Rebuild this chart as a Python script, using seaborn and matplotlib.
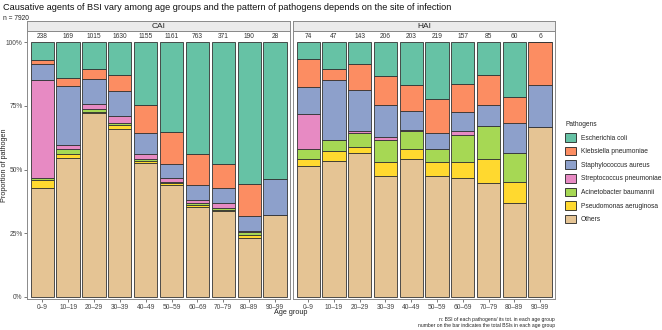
import numpy as np
import pandas as pd
import seaborn as sns
import matplotlib
matplotlib.use("Agg")
import matplotlib.pyplot as plt
from matplotlib.patches import Patch

sns.set_theme(style="white")
plt.rcParams["font.family"] = ["Liberation Sans", "DejaVu Sans"]

# ---------------- data ----------------
age_groups = ["0–9", "10–19", "20–29", "30–39", "40–49",
              "50–59", "60–69", "70–79", "80–89", "90–99"]
pathogens = ["Escherichia coli", "Klebsiella pneumoniae", "Staphylococcus aureus",
             "Streptococcus pneumoniae", "Acinetobacter baumannii",
             "Pseudomonas aeruginosa", "Others"]
colors = ["#66C2A5", "#FC8D62", "#8DA0CB", "#E78AC3", "#A6D854", "#FFD92F", "#E5C494"]

# counts (BSIs) per age group, community-acquired infections
cai_ecoli = [17, 24, 108, 211, 286, 408, 336, 177, 106, 15]
cai_kleb = [3, 5, 37, 99, 128, 147, 93, 35, 24, 0]
cai_staph = [15, 39, 100, 161, 94, 66, 44, 23, 11, 4]
cai_strep = [92, 3, 23, 44, 20, 16, 10, 6, 1, 0]
cai_acin = [2, 3, 10, 13, 9, 6, 5, 3, 2, 0]
cai_pseudo = [7, 3, 6, 29, 9, 8, 7, 2, 2, 0]
cai_others = [102, 92, 731, 1073, 609, 510, 268, 125, 44, 9]

# counts per age group, hospital-acquired infections
hai_ecoli = [5, 5, 12, 27, 34, 49, 26, 11, 13, 0]
hai_kleb = [8, 2, 15, 24, 21, 29, 17, 10, 6, 1]
hai_staph = [8, 11, 23, 26, 15, 14, 12, 7, 7, 1]
hai_strep = [10, 0, 1, 2, 1, 0, 2, 0, 0, 0]
hai_acin = [3, 2, 8, 18, 14, 11, 17, 11, 7, 0]
hai_pseudo = [2, 2, 3, 11, 8, 12, 10, 8, 5, 0]
hai_others = [38, 25, 81, 98, 110, 104, 73, 38, 22, 4]

cai_table = [cai_ecoli, cai_kleb, cai_staph, cai_strep, cai_acin, cai_pseudo, cai_others]
hai_table = [hai_ecoli, hai_kleb, hai_staph, hai_strep, hai_acin, hai_pseudo, hai_others]

rows = []
for site, table in (("CAI", cai_table), ("HAI", hai_table)):
    for p, vals in zip(pathogens, table):
        for i, v in enumerate(vals):
            rows.append({"site": site, "age_idx": i, "pathogen": p, "n": v})
df = pd.DataFrame(rows)

# ---------------- figure ----------------
W, H = 662, 330
fig = plt.figure(figsize=(W / 100, H / 100), dpi=100)


def rect(x0, y0, x1, y1):
    return [x0 / W, 1 - y1 / H, (x1 - x0) / W, (y1 - y0) / H]


panels = {"CAI": (27, 31, 290, 299), "HAI": (293, 31, 555, 299)}
spine_col = "#8A8A8A"
tick_fs = 4.8

for k, site in enumerate(["CAI", "HAI"]):
    x0, y0, x1, y1 = panels[site]
    ax = fig.add_axes(rect(x0, y0, x1, y1))
    d = df[df["site"] == site]
    sns.histplot(data=d, x="age_idx", weights="n", hue="pathogen",
                 hue_order=pathogens, palette=colors, multiple="fill",
                 discrete=True, shrink=0.9, edgecolor="#333333",
                 linewidth=0.6, alpha=1, legend=False, ax=ax)
    ax.set_xlim(-0.59, 9.58)
    ax.set_ylim(-0.009, 1.0444)
    ax.set_xlabel("")
    ax.set_ylabel("")
    ax.set_xticks(range(len(age_groups)))
    ax.set_xticklabels(age_groups, fontsize=tick_fs, color="#444444")
    ax.set_yticks([0, 0.25, 0.5, 0.75, 1.0])
    if k == 0:
        ax.set_yticklabels(["0%", "25%", "50%", "75%", "100%"],
                           fontsize=tick_fs, color="#444444")
        ax.tick_params(axis="y", length=2, width=0.5, color="#444444", pad=1.2, left=True)
    else:
        ax.set_yticklabels([])
        ax.tick_params(axis="y", length=0)
    ax.tick_params(axis="x", length=2, width=0.5, color="#444444", pad=1.5, bottom=True)
    for sp in ax.spines.values():
        sp.set_color(spine_col)
        sp.set_linewidth(0.7)
    ax.grid(False)
    # totals above bars
    totals = d.groupby("age_idx")["n"].sum()
    for i, t in totals.items():
        ax.text(i, 1.021, str(t), ha="center", va="center",
                fontsize=4.8, color="#333333")
    # facet strip
    sax = fig.add_axes(rect(x0, 21, x1, 31))
    sax.set_xticks([])
    sax.set_yticks([])
    sax.set_facecolor("#EBEBEB")
    for sp in sax.spines.values():
        sp.set_color(spine_col)
        sp.set_linewidth(0.7)
    sax.text(0.5, 0.45, site, ha="center", va="center", fontsize=6.0,
             color="#222222", transform=sax.transAxes)

# titles
fig.text(3 / W, 1 - 8 / H, "Causative agents of BSI vary among age groups and the pattern "
         "of pathogens depends on the site of infection",
         ha="left", va="center", fontsize=6.6, color="#111111")
fig.text(3 / W, 1 - 19 / H, "n = 7920", ha="left", va="center", fontsize=4.8,
         color="#222222")

# axis labels
fig.text(291 / W, 1 - 313 / H, "Age group", ha="center", va="center",
         fontsize=5.2, color="#222222")
fig.text(5 / W, 1 - 165 / H, "Proportion of pathogen", ha="center", va="center",
         rotation=90, fontsize=5.2, color="#222222")

# footnote
fig.text(555 / W, 1 - 320 / H, "n: BSI of each pathogens/ its tot. in each age group",
         ha="right", va="center", fontsize=3.6, color="#222222")
fig.text(555 / W, 1 - 326 / H, "number on the bar indicates the total BSIs in each age group",
         ha="right", va="center", fontsize=3.6, color="#222222")

# legend
handles = [Patch(facecolor=c, edgecolor="#222222", linewidth=0.6) for c in colors]
leg = fig.legend(handles, pathogens, title="Pathogens", loc="upper left",
                 bbox_to_anchor=(564 / W, 1 - 120 / H), frameon=False,
                 fontsize=4.8, title_fontsize=4.8, handlelength=1.6,
                 handleheight=1.6, labelspacing=0.75, handletextpad=0.7,
                 borderpad=0.2, borderaxespad=0)
leg._legend_box.align = "left"

fig.savefig("out.png", dpi=100)
